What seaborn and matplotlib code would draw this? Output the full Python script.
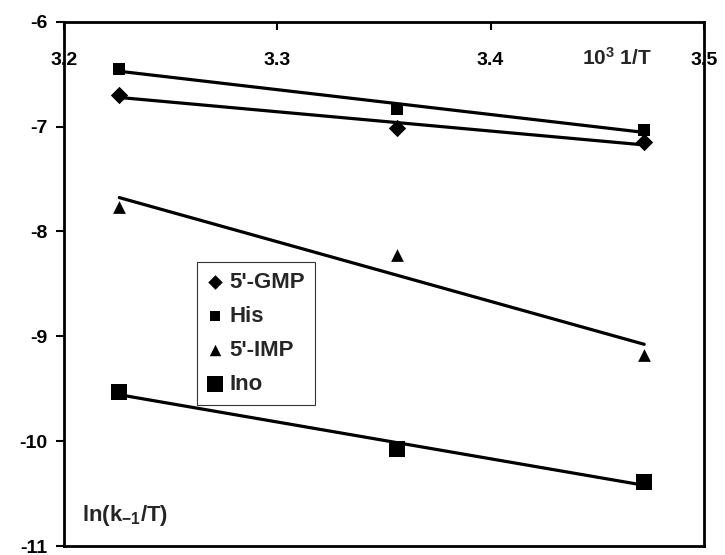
import matplotlib
matplotlib.use("Agg")
import matplotlib.pyplot as plt
import seaborn as sns

# 10^3/T for T = 310, 298, 288 K
inv_T = [3.226, 3.356, 3.472]
# ln(k-1/T) per compound
gmp = [-6.70, -7.01, -7.15]
his = [-6.45, -6.83, -7.03]
imp = [-7.77, -8.22, -9.18]
ino = [-9.53, -10.07, -10.39]
names = ["5'-GMP", "His", "5'-IMP", "Ino"]
x_ticks = [3.2, 3.3, 3.4, 3.5]
y_ticks = [-11, -10, -9, -8, -7, -6]

sns.set_style("ticks")
plt.rcParams['font.family'] = ['Liberation Sans', 'DejaVu Sans']
plt.rcParams['font.weight'] = 'bold'
plt.rcParams['axes.unicode_minus'] = False
plt.rcParams['mathtext.fontset'] = 'custom'
plt.rcParams['mathtext.rm'] = 'Liberation Sans:bold'
plt.rcParams['mathtext.it'] = 'Liberation Sans:bold'
plt.rcParams['mathtext.bf'] = 'Liberation Sans:bold'
plt.rcParams['mathtext.default'] = 'rm'

fig = plt.figure(figsize=(7.25, 5.55), dpi=100)
ax = fig.add_axes([0.088, 0.016, 0.883, 0.945])

# marker, plot size, legend size
series = [(gmp, 'D', 78, 55), (his, 's', 70, 60), (imp, '^', 84, 68), (ino, 's', 135, 120)]
for (vals, mk, sz, _), nm in zip(series, names):
    sns.regplot(x=inv_T, y=vals, ax=ax, ci=None, marker=mk, color='black',
                label=nm, scatter_kws={'s': sz, 'linewidths': 0, 'alpha': 1},
                line_kws={'lw': 2.3})

ax.set_xlim(3.2, 3.5)
ax.set_ylim(-11, -6)
ax.set_xticks(x_ticks)
ax.set_xticklabels([f"{v:.1f}" for v in x_ticks])
ax.set_yticks(y_ticks)
ax.set_yticklabels([str(v) for v in y_ticks])
ax.xaxis.tick_top()
ax.tick_params(axis='x', direction='in', length=6, width=1.5, pad=-34,
               labelsize=14, colors='black')
ax.tick_params(axis='y', direction='out', length=6, width=1.5, pad=6,
               labelsize=14, colors='black')
for lab in ax.get_xticklabels() + ax.get_yticklabels():
    lab.set_fontweight('bold')

for sp in ax.spines.values():
    sp.set_visible(True)
    sp.set_linewidth(2)
    sp.set_color('black')
    sp.set_zorder(5)

ax.set_xlabel(r"10$^{3}$ 1/T", fontsize=15, fontweight='bold')
ax.xaxis.set_label_coords(0.864, 0.931)
ax.xaxis.label.set_va('center')
ax.set_ylabel(r"ln(k$_{-1}$/T)", fontsize=16, fontweight='bold',
              rotation=0, ha='left', va='center')
ax.yaxis.set_label_coords(0.028, 0.059)

leg = ax.legend(loc='upper left', bbox_to_anchor=(0.208, 0.542),
                borderaxespad=0, fancybox=False, frameon=True,
                edgecolor='black', fontsize=16, handlelength=0.7,
                handletextpad=0.3, labelspacing=0.58, borderpad=0.45,
                scatterpoints=1)
leg.get_frame().set_linewidth(0.8)
for t in leg.get_texts():
    t.set_fontweight('bold')
for h, s in zip(leg.legend_handles, series):
    h.set_sizes([s[3]])

fig.savefig("out.png", dpi=100)
